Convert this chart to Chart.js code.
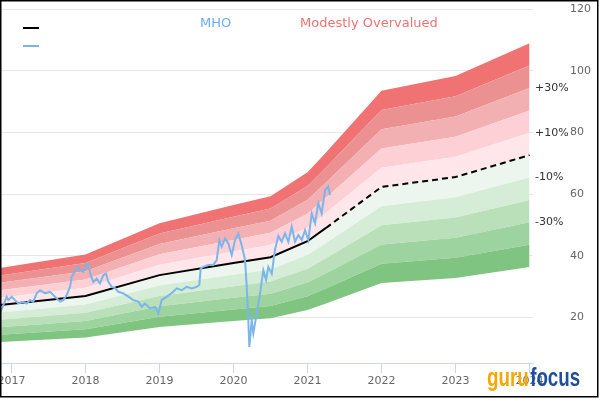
<!DOCTYPE html>
<html>
<head>
<meta charset="utf-8">
<script src="https://cdn.jsdelivr.net/npm/chart.js@4.4.1/dist/chart.umd.min.js"></script>
<style>
  body { margin: 0; background: #fff; }
  canvas { display: block; }
</style>
</head>
<body>
<canvas id="gfChart" width="600" height="420"></canvas>
<script>
// MHO share price (decimal year, USD)
const priceYears = [
  2016.845, 2016.890, 2016.936, 2016.957, 2017.003, 2017.048, 2017.092, 2017.160, 2017.206, 2017.250,
  2017.295, 2017.341, 2017.386, 2017.453, 2017.521, 2017.588, 2017.656, 2017.700, 2017.746, 2017.791,
  2017.814, 2017.859, 2017.890, 2017.926, 2017.971, 2018.007, 2018.038, 2018.071, 2018.106, 2018.152,
  2018.196, 2018.241, 2018.277, 2018.309, 2018.354, 2018.399, 2018.444, 2018.511, 2018.579, 2018.646,
  2018.714, 2018.760, 2018.804, 2018.872, 2018.940, 2018.984, 2019.030, 2019.098, 2019.165, 2019.233,
  2019.300, 2019.368, 2019.436, 2019.503, 2019.538, 2019.557, 2019.592, 2019.660, 2019.727, 2019.773,
  2019.809, 2019.841, 2019.886, 2019.930, 2019.976, 2020.021, 2020.065, 2020.111, 2020.156, 2020.179,
  2020.200, 2020.214, 2020.246, 2020.268, 2020.314, 2020.359, 2020.403, 2020.440, 2020.471, 2020.517,
  2020.561, 2020.606, 2020.652, 2020.696, 2020.741, 2020.787, 2020.831, 2020.876, 2020.922, 2020.967,
  2021.011, 2021.057, 2021.102, 2021.146, 2021.192, 2021.237, 2021.281, 2021.304
];
const priceValues = [
  21.3, 24.0, 26.7, 25.6, 26.7, 25.6, 24.5, 25.0, 24.5, 25.6,
  25.0, 27.8, 28.8, 27.8, 28.3, 26.7, 25.1, 25.6, 27.2, 29.9,
  33.2, 34.8, 36.4, 35.3, 34.8, 37.0, 37.5, 33.7, 31.5, 32.6,
  31.0, 33.7, 34.2, 31.5, 29.9, 29.5, 28.3, 27.8, 26.7, 25.6,
  25.1, 23.4, 24.5, 22.9, 23.4, 21.3, 25.6, 26.7, 27.8, 29.4,
  28.8, 29.9, 29.4, 29.9, 30.5, 35.9, 36.4, 37.0, 37.0, 38.6,
  45.1, 42.9, 45.6, 44.0, 40.2, 45.1, 47.2, 43.4, 38.6, 29.9,
  19.1, 10.4, 19.1, 14.8, 21.3, 27.8, 35.3, 32.1, 36.4, 34.2,
  42.0, 46.4, 44.5, 47.2, 44.5, 49.4, 44.5, 46.7, 45.1, 48.3,
  45.1, 53.7, 50.5, 57.0, 53.7, 61.3, 62.4, 59.7
];

// GF Value line (solid up to today, dashed projection after)
const gfYears  = [2016.845, 2018.0, 2019.0, 2020.0, 2020.5, 2021.0, 2021.25, 2022.0, 2023.0, 2024.0];
const gfValues = [24.0, 26.9, 33.7, 37.6, 39.5, 44.7, 49.0, 62.3, 65.5, 72.6];
const todayYear = 2021.25;

// band edges relative to GF Value, bottom to top
const bandEdges  = [-50, -40, -30, -20, -10, 0, 10, 20, 30, 40, 50];
const bandColors = ['#80c482', '#9dd39e', '#bae0ba', '#d5ecd6', '#ecf6ee',
                    '#ffe6ea', '#fdd0d5', '#f3b0b2', '#eb9191', '#f07272'];
const edgeLabels = ['+30%', '+10%', '-10%', '-30%'];
const edgeLabelPct = [30, 10, -10, -30];

const yTicks = [20, 40, 60, 80, 100, 120];

const pts = (xs, ys) => xs.map((x, i) => ({ x: x, y: ys[i] }));

const datasets = [
  {
    label: 'MHO',
    data: pts(priceYears, priceValues),
    borderColor: '#7cb5ec',
    borderWidth: 2,
    pointRadius: 0,
    fill: false,
    order: 0
  },
  {
    label: 'GF Value',
    data: pts(gfYears, gfValues),
    borderColor: '#000',
    borderWidth: 2,
    pointRadius: 0,
    fill: false,
    order: 1,
    segment: {
      borderDash: ctx => ctx.p0.parsed.x >= todayYear - 0.001 ? [6, 4] : undefined
    }
  }
];

bandEdges.forEach((pct, k) => {
  datasets.push({
    label: 'band' + pct,
    data: pts(gfYears, gfValues.map(v => v * (1 + pct / 100))),
    borderColor: 'transparent',
    borderWidth: 0,
    pointRadius: 0,
    backgroundColor: k > 0 ? bandColors[k - 1] : 'transparent',
    fill: k > 0 ? 2 + k - 1 : false,
    order: 2 + k
  });
});

const overlay = {
  id: 'overlay',
  afterDraw(chart) {
    const ctx = chart.ctx;
    const y = chart.scales.y;
    const area = chart.chartArea;
    ctx.save();

    // legend marks
    ctx.lineWidth = 2;
    ctx.strokeStyle = '#000';
    ctx.beginPath(); ctx.moveTo(23, 28); ctx.lineTo(39, 28); ctx.stroke();
    ctx.strokeStyle = '#7cb5ec';
    ctx.beginPath(); ctx.moveTo(23, 46); ctx.lineTo(39, 46); ctx.stroke();

    ctx.font = '13px "DejaVu Sans"';
    ctx.textBaseline = 'middle';
    ctx.textAlign = 'left';
    ctx.fillStyle = '#6aaef0';
    ctx.fillText('MHO', 200, 24);
    ctx.fillStyle = '#f07272';
    ctx.fillText('Modestly Overvalued', 300, 24);

    // percentage labels at the right end of the bands
    const last = gfValues[gfValues.length - 1];
    ctx.font = '11px "DejaVu Sans"';
    ctx.fillStyle = '#333';
    edgeLabels.forEach((t, i) => {
      ctx.fillText(t, area.right + 2, y.getPixelForValue(last * (1 + edgeLabelPct[i] / 100)));
    });

    // logo
    ctx.save();
    ctx.translate(487, 386);
    ctx.scale(0.75, 1);
    ctx.font = 'bold 25px "Liberation Sans"';
    ctx.textBaseline = 'alphabetic';
    ctx.fillStyle = '#f5a800';
    ctx.fillText('guru', 0, 0);
    const w = ctx.measureText('guru').width;
    ctx.fillStyle = '#1f4f9c';
    ctx.fillText('focus', w + 2, 0);
    ctx.restore();

    // frame
    ctx.strokeStyle = '#000';
    ctx.lineWidth = 1.5;
    ctx.strokeRect(0.75, 0.75, 597, 396);
    ctx.restore();
  }
};

Chart.defaults.font.family = '"DejaVu Sans"';

new Chart(document.getElementById('gfChart').getContext('2d'), {
  type: 'line',
  data: { datasets: datasets },
  options: {
    responsive: false,
    animation: false,
    events: [],
    layout: { padding: { top: 9, left: 0, right: 0, bottom: 0 } },
    plugins: { legend: { display: false }, tooltip: { enabled: false } },
    scales: {
      x: {
        type: 'linear',
        min: 2016.845,
        max: 2024.047,
        afterFit: s => { s.height = 57; s.paddingLeft = 0; s.paddingRight = 0; },
        grid: { drawOnChartArea: false, drawTicks: true, tickLength: 10, color: '#ccd6eb' },
        border: { display: true, color: '#ccd6eb' },
        ticks: {
          stepSize: 1,
          includeBounds: false,
          padding: 2,
          color: '#666',
          font: { size: 11 },
          maxRotation: 0,
          callback: v => String(v)
        }
      },
      y: {
        type: 'linear',
        position: 'right',
        min: 5.2,
        max: 120,
        afterBuildTicks: s => { s.ticks = yTicks.map(v => ({ value: v })); },
        afterFit: s => { s.width = 67; s.paddingTop = 0; s.paddingBottom = 0; },
        grid: { color: '#e6e6e6', drawTicks: false },
        border: { display: false },
        ticks: { padding: 37, color: '#666', font: { size: 11 } }
      }
    }
  },
  plugins: [overlay]
});
</script>
</body>
</html>
